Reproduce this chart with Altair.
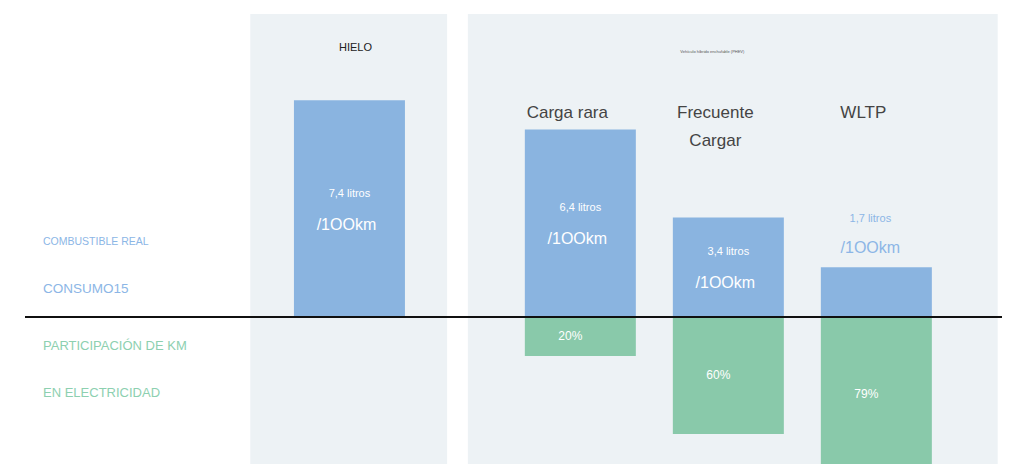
import altair as alt
import pandas as pd

# ---- data ----
scenarios = ["HIELO", "Carga rara", "Frecuente Cargar", "WLTP"]
scenario_lines = [[""], ["Carga rara"], ["Frecuente", "Cargar"], ["WLTP"]]
groups = ["HIELO", "PHEV", "PHEV", "PHEV"]
group_titles = ["HIELO", "Vehículo híbrido enchufable (PHEV)"]
fuel_l100 = [7.4, 6.4, 3.4, 1.7]
elec_share = [None, 20, 60, 79]
row_labels_fuel = ["COMBUSTIBLE REAL", "CONSUMO15"]
row_labels_elec = ["PARTICIPACIÓN DE KM", "EN ELECTRICIDAD"]

# ---- layout / style ----
W, H = 994, 456
FONT = "Liberation Sans"
BLUE_BAR = "#8ab4e0"
GREEN_BAR = "#89c9aa"
BLUE_TXT = "#8cb6e6"
GREEN_TXT = "#8dd0b0"
PANEL = "#edf2f5"
GAP = 0.56          # extra space between the two groups (in bar steps)
HALF = 0.375        # half bar width (in bar steps)
X_DOM = [-2.307, 4.409]
Y_DOM = [-5.017, 10.546]
S_DOM = [-158.5, 75.4]

gidx = {"HIELO": 0, "PHEV": 1}
pos = [i + GAP * gidx[g] for i, g in enumerate(groups)]

df = pd.DataFrame({
    "scenario": scenarios,
    "lines": scenario_lines,
    "group": groups,
    "pos": pos,
    "fuel": fuel_l100,
    "share": elec_share,
})
df["x0"] = df["pos"] - HALF
df["x1"] = df["pos"] + HALF
df["fuel_lbl"] = [f"{v:.1f}".replace(".", ",") + " litros" for v in fuel_l100]
df["unit_lbl"] = "/1OOkm"
df["share_lbl"] = [f"{int(s)}%" if s is not None and s == s else "" for s in elec_share]

xs = alt.Scale(domain=X_DOM, nice=False, zero=False)
ys = alt.Scale(domain=Y_DOM, nice=False, zero=False)
ss = alt.Scale(domain=S_DOM, nice=False, zero=False, reverse=True)

# panel backgrounds
pad = {"HIELO": (0.67, 0.66), "PHEV": (0.76, 0.82)}
panels = []
for gi, g in enumerate(["HIELO", "PHEV"]):
    p = [pp for pp, gg in zip(pos, groups) if gg == g]
    panels.append({"group": g, "title": group_titles[gi],
                   "a": min(p) - pad[g][0], "b": max(p) + pad[g][1],
                   "c": sum(p) / len(p)})
pdf = pd.DataFrame(panels)

base = alt.Chart(df)

bg = alt.Chart(pdf).mark_rect(color=PANEL).encode(
    x=alt.X("a:Q", scale=xs, axis=None), x2="b:Q",
    y=alt.value(6), y2=alt.value(H + 10))

title_hielo = alt.Chart(pdf).transform_filter("datum.group == 'HIELO'").mark_text(
    font=FONT, fontSize=11, color="#222", dx=6).encode(
    x=alt.X("c:Q", scale=xs, axis=None), y=alt.value(40), text="title:N")
title_phev = alt.Chart(pdf).transform_filter("datum.group == 'PHEV'").mark_text(
    font=FONT, fontSize=4, color="#555", dx=-16).encode(
    x=alt.X("c:Q", scale=xs, axis=None), y=alt.value(44), text="title:N")

fuel_bars = base.mark_bar(color=BLUE_BAR).encode(
    x=alt.X("x0:Q", scale=xs, axis=None), x2="x1:Q",
    y=alt.Y("fuel:Q", scale=ys, axis=None), y2=alt.datum(0))

share_bars = base.transform_filter("isValid(datum.share)").mark_bar(color=GREEN_BAR).encode(
    x=alt.X("x0:Q", scale=xs, axis=None), x2="x1:Q",
    y=alt.Y("share:Q", scale=ss, axis=None), y2=alt.datum(0))

inside = base.transform_filter("datum.fuel >= 2.5").transform_calculate(mid="datum.fuel/2")
fuel_in1 = inside.mark_text(font=FONT, fontSize=11, color="white", dy=-15).encode(
    x=alt.X("pos:Q", scale=xs, axis=None), y=alt.Y("mid:Q", scale=ys, axis=None), text="fuel_lbl:N")
fuel_in2 = inside.mark_text(font=FONT, fontSize=16, color="white", dy=16, dx=-3).encode(
    x=alt.X("pos:Q", scale=xs, axis=None), y=alt.Y("mid:Q", scale=ys, axis=None), text="unit_lbl:N")

outside = base.transform_filter("datum.fuel < 2.5")
fuel_out1 = outside.mark_text(font=FONT, fontSize=11, color=BLUE_TXT, dy=-48, dx=-6).encode(
    x=alt.X("pos:Q", scale=xs, axis=None), y=alt.Y("fuel:Q", scale=ys, axis=None), text="fuel_lbl:N")
fuel_out2 = outside.mark_text(font=FONT, fontSize=16, color=BLUE_TXT, dy=-19, dx=-6).encode(
    x=alt.X("pos:Q", scale=xs, axis=None), y=alt.Y("fuel:Q", scale=ys, axis=None), text="unit_lbl:N")

share_txt = base.transform_filter("isValid(datum.share)").transform_calculate(
    mid="datum.share/2").mark_text(font=FONT, fontSize=12, color="white", dx=-10).encode(
    x=alt.X("pos:Q", scale=xs, axis=None), y=alt.Y("mid:Q", scale=ss, axis=None), text="share_lbl:N")

scen_txt = base.transform_filter("datum.group == 'PHEV'").mark_text(
    font=FONT, fontSize=17, color="#444", dx=-13, baseline="middle", lineHeight=28).encode(
    x=alt.X("pos:Q", scale=xs, axis=None), y=alt.value(105), text="lines")

rl = pd.DataFrame({
    "label": row_labels_fuel + row_labels_elec,
    "kind": ["fuel", "fuel", "elec", "elec"],
    "size": [10.5, 13.5, 13, 13],
    "ypx": [234, 281, 338, 385],
})
row_txt = alt.Chart(rl).mark_text(font=FONT, align="left", baseline="middle").encode(
    x=alt.value(35), y=alt.Y("ypx:Q", scale=alt.Scale(domain=[0, H], range=[0, H]), axis=None),
    text="label:N",
    size=alt.Size("size:Q", scale=None, legend=None),
    color=alt.Color("kind:N", scale=alt.Scale(domain=["fuel", "elec"], range=[BLUE_TXT, GREEN_TXT]), legend=None))

baseline = alt.Chart(df).mark_rule(color="#111", strokeWidth=1.5).encode(
    x=alt.value(17), x2=alt.value(W + 10), y=alt.Y("zero:Q", scale=ys, axis=None)
).transform_calculate(zero="0")

chart = alt.layer(
    bg, title_hielo, title_phev, fuel_bars, share_bars, baseline,
    fuel_in1, fuel_in2, fuel_out1, fuel_out2, share_txt, scen_txt, row_txt
).resolve_scale(y="independent").properties(
    width=W, height=H, padding=0, autosize=alt.AutoSizeParams(type="none"),
    background="white"
).configure_view(stroke=None)

chart.save("out.html", embed_options={"renderer": "svg", "actions": False})
